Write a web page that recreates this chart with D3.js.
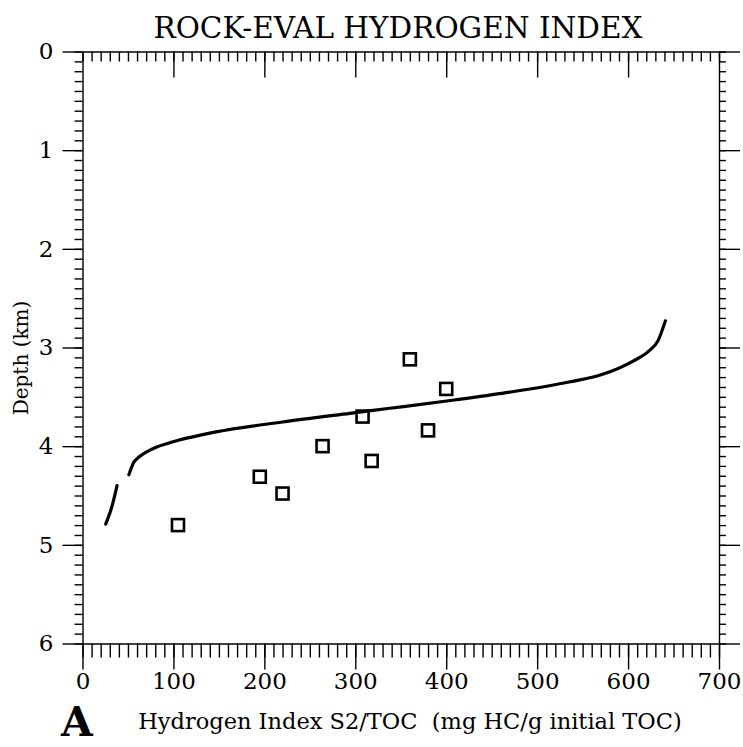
<!DOCTYPE html>
<html>
<head>
<meta charset="utf-8">
<script src="https://cdn.jsdelivr.net/npm/d3@7"></script>
<style>
  body { margin: 0; background: #fff; }
  svg { display: block; }
  text { font-family: "DejaVu Serif", serif; fill: #000; }
  .axis path, .axis line { stroke: #000; stroke-width: 1.4; }
  .axis text { font-family: "DejaVu Serif", serif; font-size: 23px; }
</style>
</head>
<body>
<div id="chart"></div>
<script>
// hydrogen index model curve (upper, main branch)
const curveMain = [
  [51, 4.29], [56, 4.17], [62, 4.11], [70, 4.06], [81, 4.01], [96, 3.965],
  [147, 3.855], [220, 3.755], [294, 3.667], [338, 3.616], [409, 3.532],
  [466, 3.458], [535, 3.35], [572, 3.272], [605, 3.14], [623, 3.035],
  [633, 2.93], [641, 2.73]
];
// short lower branch of the curve
const curveLow = [[25.5, 4.79], [30, 4.68], [33, 4.59], [38, 4.40]];

// measured samples: HI, depth (km)
const samplesHI = [105, 195, 220, 264, 308, 318, 360, 380, 400];
const samplesDepth = [4.80, 4.31, 4.48, 4.00, 3.70, 4.15, 3.12, 3.84, 3.42];

const xMajor = [0, 100, 200, 300, 400, 500, 600, 700];
const yMajor = [0, 1, 2, 3, 4, 5, 6];

const W = 743, H = 747;
const plot = { left: 82.5, right: 719, top: 51.5, bottom: 643.5 };

const svg = d3.select("#chart").append("svg")
  .attr("width", W)
  .attr("height", H);

const x = d3.scaleLinear().domain([0, 700]).range([plot.left, plot.right]);
const y = d3.scaleLinear().domain([0, 6]).range([plot.top, plot.bottom]);

const xMinor = d3.range(0, 701, 10);
const yMinor = d3.range(0, 60.1, 1).map(d => d / 10);

// bottom axis: minor then major with labels
svg.append("g").attr("class", "axis")
  .attr("transform", `translate(0,${plot.bottom})`)
  .call(d3.axisBottom(x).tickValues(xMinor).tickSize(14).tickSizeOuter(0).tickFormat(""));
svg.append("g").attr("class", "axis")
  .attr("transform", `translate(0,${plot.bottom})`)
  .call(d3.axisBottom(x).tickValues(xMajor).tickSize(26).tickSizeOuter(0).tickPadding(3).tickFormat(d3.format("d")))
  .call(g => g.select(".domain").remove());

// top axis, ticks hang inside
svg.append("g").attr("class", "axis")
  .attr("transform", `translate(0,${plot.top})`)
  .call(d3.axisTop(x).tickValues(xMinor).tickSize(-10).tickSizeOuter(0).tickFormat(""));
svg.append("g").attr("class", "axis")
  .attr("transform", `translate(0,${plot.top})`)
  .call(d3.axisTop(x).tickValues(xMajor.slice(1, -1)).tickSize(-26).tickSizeOuter(0).tickFormat(""))
  .call(g => g.select(".domain").remove());

// left axis
svg.append("g").attr("class", "axis")
  .attr("transform", `translate(${plot.left},0)`)
  .call(d3.axisLeft(y).tickValues(yMinor).tickSize(8).tickSizeOuter(0).tickFormat(""));
svg.append("g").attr("class", "axis")
  .attr("transform", `translate(${plot.left},0)`)
  .call(d3.axisLeft(y).tickValues(yMajor).tickSize(20).tickSizeOuter(0).tickPadding(9).tickFormat(d3.format("d")))
  .call(g => g.select(".domain").remove());

// right axis
svg.append("g").attr("class", "axis")
  .attr("transform", `translate(${plot.right},0)`)
  .call(d3.axisRight(y).tickValues(yMinor).tickSize(7).tickSizeOuter(0).tickFormat(""));
svg.append("g").attr("class", "axis")
  .attr("transform", `translate(${plot.right},0)`)
  .call(d3.axisRight(y).tickValues(yMajor).tickSize(21).tickSizeOuter(0).tickFormat(""))
  .call(g => g.select(".domain").remove());

// curve
const line = d3.line()
  .x(d => x(d[0]))
  .y(d => y(d[1]))
  .curve(d3.curveMonotoneX);

[curveMain, curveLow].forEach(c => {
  svg.append("path")
    .datum(c)
    .attr("fill", "none")
    .attr("stroke", "#000")
    .attr("stroke-width", 3.2)
    .attr("stroke-linecap", "round")
    .attr("d", line);
});

// samples as open squares
const sq = 12;
svg.selectAll("rect.sample")
  .data(samplesHI)
  .enter().append("rect")
  .attr("class", "sample")
  .attr("x", (d, i) => x(d) - sq / 2)
  .attr("y", (d, i) => y(samplesDepth[i]) - sq / 2)
  .attr("width", sq)
  .attr("height", sq)
  .attr("fill", "none")
  .attr("stroke", "#000")
  .attr("stroke-width", 2.6);

// titles
svg.append("text")
  .attr("x", 398)
  .attr("y", 38)
  .attr("text-anchor", "middle")
  .style("font-size", "29.5px")
  .text("ROCK-EVAL HYDROGEN INDEX");

svg.append("text")
  .attr("x", 410)
  .attr("y", 729)
  .attr("text-anchor", "middle")
  .style("font-size", "22.5px")
  .style("white-space", "pre")
  .text("Hydrogen Index S2/TOC  (mg HC/g initial TOC)");

svg.append("text")
  .attr("transform", `translate(28,358) rotate(-90)`)
  .attr("text-anchor", "middle")
  .style("font-size", "20px")
  .text("Depth (km)");

svg.append("text")
  .attr("x", 61)
  .attr("y", 736)
  .style("font-size", "41px")
  .style("font-weight", "bold")
  .text("A");
</script>
</body>
</html>
